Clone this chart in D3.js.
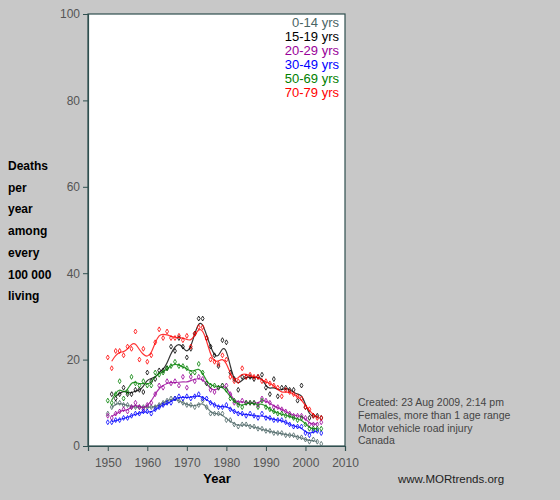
<!DOCTYPE html>
<html><head><meta charset="utf-8">
<script src="https://cdn.jsdelivr.net/npm/d3@7"></script>
<style>body{margin:0;background:#c8c8c8;font-family:Arial,"Liberation Sans",sans-serif}</style>
</head><body><div id="chart"></div>
<script>
const startYear = 1950;
const ageGroups = ["0-14 yrs", "15-19 yrs", "20-29 yrs", "30-49 yrs", "50-69 yrs", "70-79 yrs"];
const groupColors = ["#4a6464", "#000000", "#990099", "#0000ff", "#008000", "#ff0000"];
const age0_14 = [7.5,9,10,10,9.5,9.5,9,9,9,9,9,9,9,9.5,10,10.5,11,11,10.5,10,9.5,9.5,9,9.5,10.5,9,7.5,7.5,7.5,7.5,6,6,5,4.5,5,5,4.5,4.5,4,4,3.5,3.5,3,3,3,2.5,2.5,2.5,2,2,1.5,1,1.5,1,0.5];
const age15_19 = [null,12,11,12,13.5,12,12,13,13,12.5,17,15,15.5,17.5,17.5,18,23,22,25,23,20.5,22.5,26,29.5,29.5,25,23,21,18.5,24.5,24,17,15.5,13,16,16,16,15.5,16,16.5,13.5,12,15.5,11.5,13.5,13.5,13,13,10.5,14,9,6.5,7,7,6.5];
const age20_29 = [7,6.5,7.5,8,8.5,8,9,10,9,8.5,9.5,10,12,14,13.5,15,14.5,15,14,16,13.5,16,15,16,15.5,14.5,13,12.5,13.5,14,14,12,10,10,10.5,10,10,10,9.5,11,10.5,10,9,9,8.5,8,7.5,7,7,7,6.5,5,5,5,5.5];
const age30_49 = [5.5,5.5,6,6,6.5,6.5,7,7.5,7.5,8,8,7.5,8.5,9,9.5,10,10,11,11.5,11,11.5,11,11.5,12,11,11,10,9.5,9,9,9.5,8.5,8,7.5,7.5,7,7.5,7,6.5,7.5,6.5,6.5,6,6,6,5.5,5,4.5,4.5,4.5,3,2.5,3.5,3.5,3];
const age50_69 = [10.5,10,12,15,11,12.5,16,14.5,14,15,14,14,17,16.5,17,18,18.5,19.5,18.5,18.5,18,17,17,19,17,14.5,14,14,13.5,14,13,11,10.5,9.5,9,10,10,10,9,10.5,9,8.5,8,7.5,7.5,7,7,6.5,6,6.5,5,4,4,4,4];
const age70_79 = [20.5,18,22,22,21,23,22.5,26.5,20,22.5,19.5,21,24,27,25,26.5,25,25,25.5,24.5,25.5,23,26,27.5,27.5,25,20,19.5,19,21,20,16,15,15,18,16,16.5,16,16,15,15,14.5,14,13.5,11.5,13,12.5,12,11.5,11,9,8.5,7,6.5,6.5];
const seriesValues = [age0_14, age15_19, age20_29, age30_49, age50_69, age70_79];
const xTicks = [1950,1960,1970,1980,1990,2000,2010];
const yTicks = [0,20,40,60,80,100];
const yLabelLines = ["Deaths","per","year","among","every","100 000","living"];
const noteLines = ["Created:  23 Aug 2009, 2:14 pm","Females, more than 1 age range","Motor vehicle road injury","Canada"];

const svg = d3.select("#chart").append("svg").attr("width",560).attr("height",500);
const x = d3.scaleLinear().domain([1945,2010]).range([88,345]);
const y = d3.scaleLinear().domain([0,100]).range([446,14]);
const axisColor = "#2f4f4f";

svg.append("rect").attr("x",88).attr("y",14).attr("width",257).attr("height",432)
    .attr("fill","#fff").attr("stroke",axisColor).attr("stroke-width",1.2);

const xAxis = svg.append("g").attr("transform","translate(0,446)")
    .call(d3.axisBottom(x).tickValues(xTicks).tickFormat(d3.format("d")).tickSize(5));
const yAxis = svg.append("g").attr("transform","translate(88,0)")
    .call(d3.axisLeft(y).tickValues(yTicks).tickSize(5));
[xAxis, yAxis].forEach(a => {
    a.select(".domain").attr("stroke",axisColor).attr("stroke-width",1.2);
    a.selectAll("line").attr("stroke",axisColor);
    a.selectAll("text").attr("fill","#555").style("font-size","12px").style("font-family","Arial");
});
xAxis.selectAll("text").attr("dy","1.1em");

const line = d3.line().x(d => x(d.year)).y(d => y(d.v)).curve(d3.curveBasis);
const diamond = d3.symbol().type(d3.symbolDiamond).size(7);

// light smoothing of the yearly points for the trend line (1-2-1 weights)
function smooth(pts) {
    return pts.map((d, k) => {
        const a = pts[k - 1], b = pts[k + 1];
        if (!a || !b) return d;
        return {year: d.year, v: (a.v + 2 * d.v + b.v) / 4};
    });
}

seriesValues.forEach((vals, i) => {
    const valid = vals.map((v, k) => ({year: startYear + k, v})).filter(d => d.v != null);
    svg.append("path").datum(smooth(valid).slice(1, -1)).attr("d", line)
        .attr("fill","none").attr("stroke",groupColors[i]).attr("stroke-width",1.2).attr("opacity",0.8);
    svg.append("g").selectAll("path").data(valid).join("path")
        .attr("transform", d => `translate(${x(d.year)},${y(d.v)})`)
        .attr("d", diamond).attr("fill","none").attr("stroke",groupColors[i]).attr("stroke-width",0.8);
});

svg.append("g").selectAll("text").data(ageGroups).join("text")
    .attr("x",339).attr("y",(d,i) => 27 + i*14).attr("text-anchor","end")
    .attr("fill",(d,i) => groupColors[i]).style("font-size","13px").text(d => d);

svg.append("g").selectAll("text").data(yLabelLines).join("text")
    .attr("x",8).attr("y",(d,i) => 170 + i*21.7)
    .style("font-size","12px").style("font-weight","bold").text(d => d);

svg.append("text").attr("x",217).attr("y",483).attr("text-anchor","middle")
    .style("font-size","13px").style("font-weight","bold").text("Year");

svg.append("g").selectAll("text").data(noteLines).join("text")
    .attr("x",358).attr("y",(d,i) => 406 + i*12.8)
    .attr("fill","#444").style("font-size","10.5px").text(d => d);

svg.append("text").attr("x",398).attr("y",483).attr("fill","#222")
    .style("font-size","11.5px").text("www.MORtrends.org");
</script></body></html>
